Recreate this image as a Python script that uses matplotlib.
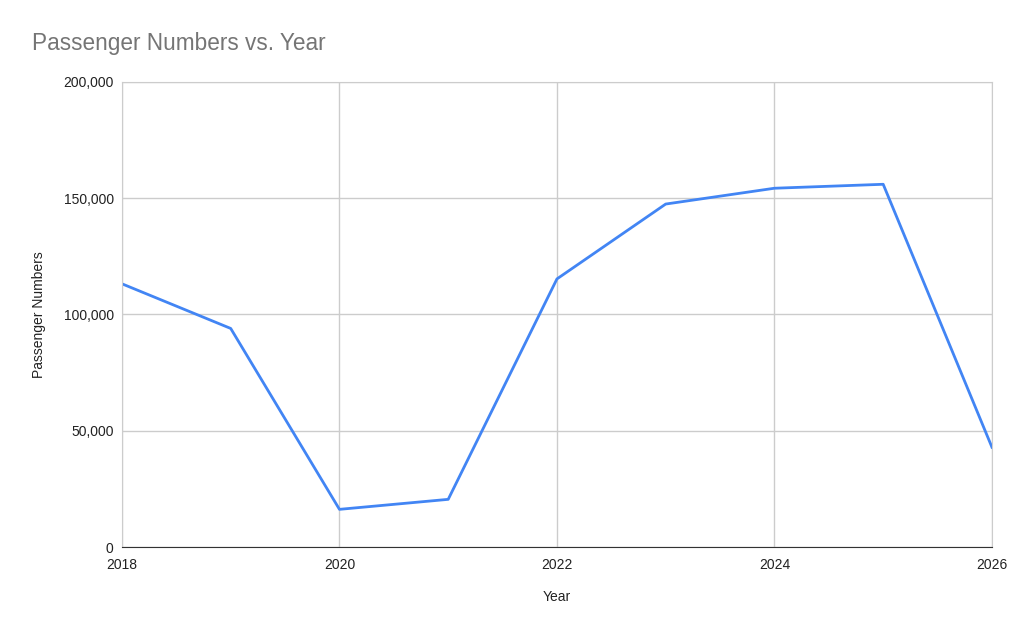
import matplotlib.pyplot as plt
from matplotlib.ticker import FuncFormatter

plt.rcParams['font.family'] = ['Liberation Sans', 'DejaVu Sans']

years = [2018, 2019, 2020, 2021, 2022, 2023, 2024, 2025, 2026]
passengers = [113200, 94000, 16200, 20500, 115300, 147500, 154300, 156000, 42900]

fig = plt.figure(figsize=(10.24, 6.34), dpi=100)
ax = fig.add_axes([0.1191, 0.1372, 0.8496, 0.7335])

ax.plot(years, passengers, color='#4285f4', linewidth=2)

ax.set_xlim(2018, 2026)
ax.set_ylim(0, 200000)
ax.set_xticks([2018, 2020, 2022, 2024, 2026])
ax.set_yticks([0, 50000, 100000, 150000, 200000])
ax.yaxis.set_major_formatter(FuncFormatter(lambda v, p: f'{int(v):,}'))

ax.grid(True, color='#cccccc', linewidth=1)
ax.set_axisbelow(True)
for side in ['top', 'right', 'left']:
    ax.spines[side].set_color('#cccccc')
ax.spines['bottom'].set_color('#333333')
ax.tick_params(length=0, labelsize=10, colors='#222222', pad=8)
ax.tick_params(axis='y', pad=6)

ax.set_xlabel('Year', fontsize=10, color='#222222')
ax.set_ylabel('Passenger Numbers', fontsize=10, color='#222222')
ax.xaxis.set_label_coords(0.5, -0.093)
ax.yaxis.set_label_coords(-0.087, 0.5)

fig.text(0.031, 0.932, 'Passenger Numbers vs. Year', fontsize=16.3, color='#757575', va='center')

fig.savefig('out.png', dpi=100)
